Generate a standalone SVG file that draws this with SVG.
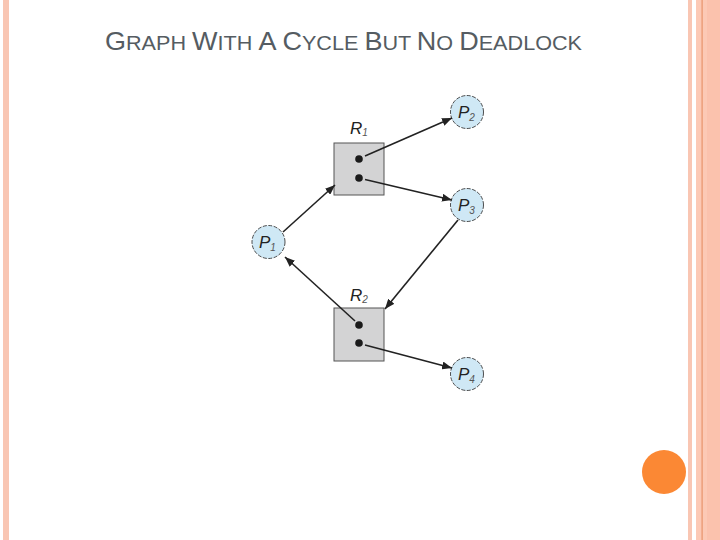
<svg xmlns="http://www.w3.org/2000/svg" width="720" height="540" viewBox="0 0 720 540">
<defs>
<marker id="ah" viewBox="0 0 10 8" refX="10" refY="4" markerWidth="10" markerHeight="8" markerUnits="userSpaceOnUse" orient="auto">
<path d="M0,0 L10,4 L0,8 Z" fill="#222"/>
</marker>
</defs>
<style>
.proc{fill:#cfe8f5;stroke:#3a3a3a;stroke-width:0.9;stroke-dasharray:4 1.5}
.res{fill:#d3d3d4;stroke:#555;stroke-width:1}
.dot{fill:#1a1a1a}
.edge{stroke:#222;stroke-width:1.6;fill:none;marker-end:url(#ah)}
.lbl{font-family:"Liberation Sans",Arial,sans-serif;font-style:italic;fill:#222;font-size:17px}
.sub{font-size:10px;fill:#555}
.title{font-family:"Liberation Sans",Arial,sans-serif;fill:#555c62}
</style>
<rect width="720" height="540" fill="#fff"/>
<rect x="3" y="0" width="6" height="540" fill="#f9c6b3"/>
<rect x="688" y="0" width="4" height="540" fill="#f9c6b3"/>
<rect x="696" y="0" width="24" height="540" fill="#fcc9b5"/>
<rect x="707" y="0" width="13" height="540" fill="#fbc2ad"/>
<rect x="701.5" y="0" width="1.2" height="540" fill="#e8946c"/>
<circle cx="664" cy="472" r="22" fill="#fb8834"/>
<text class="title" x="105" y="50" textLength="477" lengthAdjust="spacingAndGlyphs"><tspan font-size="25">G</tspan><tspan font-size="20">RAPH </tspan><tspan font-size="25">W</tspan><tspan font-size="20">ITH </tspan><tspan font-size="25">A C</tspan><tspan font-size="20">YCLE </tspan><tspan font-size="25">B</tspan><tspan font-size="20">UT </tspan><tspan font-size="25">N</tspan><tspan font-size="20">O </tspan><tspan font-size="25">D</tspan><tspan font-size="20">EADLOCK</tspan></text>
<g id="R1">
<rect class="res" x="334" y="143" width="50" height="52"/>
<circle class="dot" cx="359" cy="159" r="3.8"/>
<circle class="dot" cx="359" cy="178" r="3.8"/>
<text class="lbl" x="350" y="134">R<tspan class="sub" dy="2">1</tspan></text>
</g>
<g id="R2">
<rect class="res" x="334" y="308" width="50" height="53"/>
<circle class="dot" cx="359" cy="325" r="3.8"/>
<circle class="dot" cx="359" cy="343" r="3.8"/>
<text class="lbl" x="350" y="301">R<tspan class="sub" dy="2">2</tspan></text>
</g>
<g id="P1">
<circle class="proc" cx="268.5" cy="242" r="16.5"/>
<text class="lbl" x="259" y="248">P<tspan class="sub" dy="3">1</tspan></text>
</g>
<g id="P2">
<circle class="proc" cx="467" cy="112" r="16.5"/>
<text class="lbl" x="458" y="118">P<tspan class="sub" dy="3">2</tspan></text>
</g>
<g id="P3">
<circle class="proc" cx="467" cy="205" r="16.5"/>
<text class="lbl" x="458" y="211">P<tspan class="sub" dy="3">3</tspan></text>
</g>
<g id="P4">
<circle class="proc" cx="467" cy="374" r="16.5"/>
<text class="lbl" x="458" y="380">P<tspan class="sub" dy="3">4</tspan></text>
</g>
<g id="connectors">
<line class="edge" x1="283" y1="232" x2="335" y2="185"/>
<line class="edge" x1="365" y1="156" x2="452" y2="118"/>
<line class="edge" x1="365" y1="179.5" x2="452" y2="200"/>
<line class="edge" x1="458" y1="220" x2="385" y2="309"/>
<line class="edge" x1="355" y1="321" x2="285" y2="257"/>
<line class="edge" x1="365" y1="345" x2="452" y2="368"/>
</g>
</svg>
